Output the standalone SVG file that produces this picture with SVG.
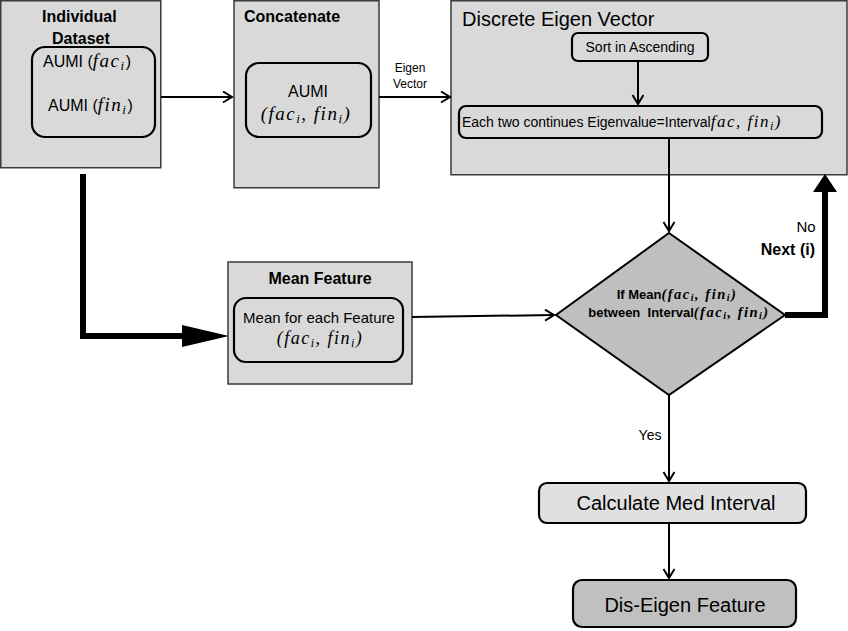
<svg xmlns="http://www.w3.org/2000/svg" width="848" height="631" viewBox="0 0 848 631">
<defs>
<style>
.box{fill:#d9d9d9;stroke:#3a3a3a;stroke-width:1.5}
.inner{fill:#d9d9d9;stroke:#000;stroke-width:2.2}
.t{font-family:"Liberation Sans",Arial,sans-serif;fill:#000}
.b{font-weight:bold}
.m{font-family:"Liberation Serif","Times New Roman",serif;font-style:italic;letter-spacing:1.5px}
.ln{stroke:#000;stroke-width:2;fill:none}
.thick{stroke:#000;stroke-width:6;fill:none}
</style>
<marker id="chev" markerUnits="userSpaceOnUse" markerWidth="12" markerHeight="14" refX="10" refY="6" orient="auto">
<path d="M1,0.5 L10,6 L1,11.5" fill="none" stroke="#000" stroke-width="2"/>
</marker>
</defs>
<rect width="848" height="631" fill="#fff"/>

<g id="individual-dataset">
<rect class="box" x="0.75" y="0.75" width="160" height="167"/>
<rect class="inner" x="32" y="47" width="123" height="90" rx="13"/>
<text class="t b" x="42" y="22" font-size="16">Individual</text>
<text class="t b" x="52" y="44" font-size="16">Dataset</text>
<text class="t" x="43" y="67" font-size="16">AUMI (<tspan class="m" font-size="19">fac</tspan><tspan class="m" font-size="13" dy="3">i</tspan><tspan dy="-3">)</tspan></text>
<text class="t" x="48" y="111" font-size="16">AUMI (<tspan class="m" font-size="19">fin</tspan><tspan class="m" font-size="13" dy="3">i</tspan><tspan dy="-3">)</tspan></text>
</g>

<g id="concatenate">
<rect class="box" x="234" y="0.75" width="145" height="187"/>
<rect class="inner" x="246" y="63" width="125" height="74" rx="13"/>
<text class="t b" x="244" y="22" font-size="16">Concatenate</text>
<text class="t" x="308" y="97" font-size="16" text-anchor="middle">AUMI</text>
<text class="t" x="306" y="120" font-size="16" text-anchor="middle"><tspan class="m" font-size="19">(fac</tspan><tspan class="m" font-size="13" dy="3">i</tspan><tspan class="m" font-size="19" dy="-3">, fin</tspan><tspan class="m" font-size="13" dy="3">i</tspan><tspan class="m" font-size="19" dy="-3">)</tspan></text>
</g>

<g id="eigen-label">
<text class="t" x="410" y="72" font-size="12" text-anchor="middle">Eigen</text>
<text class="t" x="410" y="88" font-size="12" text-anchor="middle">Vector</text>
</g>

<g id="discrete-eigen-vector">
<rect class="box" x="451" y="0.75" width="396" height="174"/>
<text class="t" x="462" y="26" font-size="20">Discrete Eigen Vector</text>
<g id="sort">
<rect class="inner" x="572" y="33" width="136" height="28" rx="6"/>
<text class="t" x="640" y="52" font-size="14" text-anchor="middle">Sort in Ascending</text>
</g>
<g id="each-two">
<rect class="inner" x="459" y="106" width="363" height="32" rx="7"/>
<text class="t" x="462" y="127" font-size="14">Each two continues Eigenvalue=Interval<tspan class="m" font-size="17">fac, fin</tspan><tspan class="m" font-size="12" dy="3">i</tspan><tspan class="m" font-size="17" dy="-3">)</tspan></text>
</g>
</g>

<g id="mean-feature">
<rect class="box" x="228" y="262" width="184" height="122"/>
<text class="t b" x="320" y="284" font-size="16" text-anchor="middle">Mean Feature</text>
<rect class="inner" x="234" y="298" width="169" height="64" rx="12"/>
<text class="t" x="319" y="323" font-size="15" text-anchor="middle">Mean for each Feature</text>
<text class="t" x="320" y="344" font-size="16" text-anchor="middle"><tspan class="m" font-size="18">(fac</tspan><tspan class="m" font-size="12" dy="3">i</tspan><tspan class="m" font-size="18" dy="-3">, fin</tspan><tspan class="m" font-size="12" dy="3">i</tspan><tspan class="m" font-size="18" dy="-3">)</tspan></text>
</g>

<g id="decision">
<polygon points="669,233 785,315 669,395 556,315" fill="#bfbfbf" stroke="#000" stroke-width="2"/>
<text class="t b" x="677" y="299" font-size="13" text-anchor="middle">If Mean<tspan class="m" font-size="14.5">(fac</tspan><tspan class="m" font-size="10" dy="2">i</tspan><tspan class="m" font-size="14.5" dy="-2">, fin</tspan><tspan class="m" font-size="10" dy="2">i</tspan><tspan class="m" font-size="14.5" dy="-2">)</tspan></text>
<text class="t b" x="679" y="317" font-size="13" text-anchor="middle">between&#160; Interval<tspan class="m" font-size="14.5">(fac</tspan><tspan class="m" font-size="10" dy="2">i</tspan><tspan class="m" font-size="14.5" dy="-2">, fin</tspan><tspan class="m" font-size="10" dy="2">i</tspan><tspan class="m" font-size="14.5" dy="-2">)</tspan></text>
</g>

<g id="calculate-med-interval">
<rect x="539" y="483" width="267" height="40" rx="8" fill="#e0e0e0" stroke="#000" stroke-width="2.2"/>
<text class="t" x="676" y="510" font-size="20" text-anchor="middle">Calculate Med Interval</text>
</g>

<g id="dis-eigen-feature">
<rect x="573" y="580" width="223" height="47" rx="9" fill="#c0c0c0" stroke="#000" stroke-width="2.2"/>
<text class="t" x="685" y="612" font-size="20" text-anchor="middle">Dis-Eigen Feature</text>
</g>

<g id="connectors">
<line class="ln" x1="161" y1="97" x2="232" y2="97" marker-end="url(#chev)"/>
<line class="ln" x1="379" y1="97" x2="450" y2="97" marker-end="url(#chev)"/>
<line class="ln" x1="638" y1="61" x2="638" y2="104" marker-end="url(#chev)"/>
<line class="ln" x1="669" y1="138" x2="669" y2="231" marker-end="url(#chev)"/>
<line class="ln" x1="412" y1="317" x2="554" y2="315" marker-end="url(#chev)"/>
<line class="ln" x1="669" y1="395" x2="669" y2="481" marker-end="url(#chev)"/>
<line class="ln" x1="669" y1="523" x2="669" y2="578" marker-end="url(#chev)"/>
<polyline class="thick" points="83,174 83,336 185,336"/>
<polygon points="182,325 229,336 182,347" fill="#000"/>
<polyline class="thick" points="785,315 825,315 825,190"/>
<polygon points="813,192 825,174 837,192" fill="#000"/>
<text class="t" x="806" y="232" font-size="15" text-anchor="middle">No</text>
<text class="t b" x="815" y="255" font-size="16" text-anchor="end">Next (i)</text>
<text class="t" x="650" y="440" font-size="14" text-anchor="middle">Yes</text>
</g>
</svg>
